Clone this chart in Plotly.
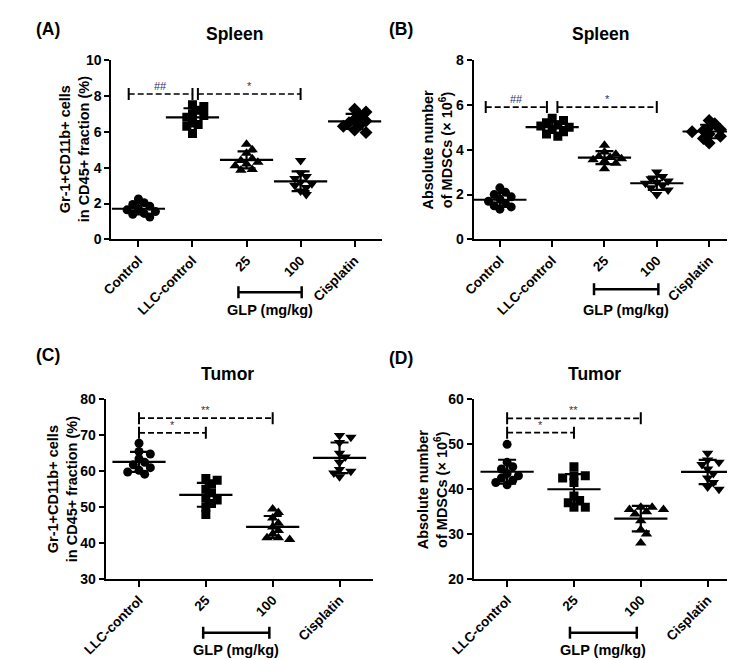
import numpy as np
import plotly.graph_objects as go

W, H = 735, 660
FONT = "Liberation Sans"

# ---------------- data ----------------
cats_spleen = ["Control", "LLC-control", "25", "100", "Cisplatin"]
cats_tumor = ["LLC-control", "25", "100", "Cisplatin"]
sym_spleen = ["circle", "square", "triangle-up", "triangle-down", "diamond"]
sym_tumor = ["circle", "square", "triangle-up", "triangle-down"]

# (A) Spleen, Gr-1+CD11b+ % of CD45+
a_control = [2.25, 2.05, 1.95, 1.85, 1.7, 1.65, 1.55, 1.45, 1.4, 1.25]
a_llc = [7.5, 7.4, 7.2, 7.0, 6.9, 6.8, 6.6, 6.4, 6.3, 5.9]
a_glp25 = [5.3, 5.0, 4.8, 4.5, 4.4, 4.3, 4.2, 4.1, 3.9, 3.85]
a_glp100 = [4.4, 3.7, 3.5, 3.4, 3.2, 3.1, 3.0, 2.9, 2.7, 2.5]
a_cis = [7.25, 7.1, 6.9, 6.7, 6.6, 6.5, 6.4, 6.3, 6.1, 5.95]

# (B) Spleen, absolute number of MDSCs (x10^6)
b_control = [2.3, 2.1, 2.0, 1.9, 1.8, 1.7, 1.6, 1.5, 1.45, 1.35]
b_llc = [5.4, 5.3, 5.2, 5.1, 5.05, 5.0, 4.9, 4.8, 4.7, 4.6]
b_glp25 = [4.2, 3.9, 3.8, 3.7, 3.65, 3.6, 3.55, 3.5, 3.4, 3.15]
b_glp100 = [3.0, 2.8, 2.7, 2.6, 2.55, 2.5, 2.4, 2.3, 2.2, 2.0]
b_cis = [5.3, 5.15, 5.0, 4.9, 4.85, 4.8, 4.7, 4.6, 4.5, 4.3]

# (C) Tumor, Gr-1+CD11b+ % of CD45+
c_llc = [67.8, 65.5, 64.8, 63.5, 62.5, 61.8, 61.0, 60.3, 59.8, 59.2]
c_glp25 = [58.0, 57.5, 56.5, 55.0, 54.0, 52.5, 52.0, 51.0, 50.0, 48.0]
c_glp100 = [49.5, 48.5, 47.0, 45.5, 44.5, 43.5, 42.5, 41.5, 41.0, 41.5]
c_cis = [70.0, 69.5, 68.0, 65.0, 64.0, 62.5, 60.5, 60.0, 59.5, 58.5]

# (D) Tumor, absolute number of MDSCs (x10^6)
d_llc = [50.0, 46.0, 45.0, 44.5, 43.5, 43.0, 42.5, 42.0, 41.5, 41.0]
d_glp25 = [45.0, 43.0, 43.0, 42.5, 41.5, 38.5, 37.5, 37.0, 36.0, 36.0]
d_glp100 = [36.0, 36.0, 35.5, 35.5, 35.0, 34.5, 33.0, 31.0, 30.0, 28.0]
d_cis = [48.0, 46.5, 46.0, 45.5, 44.5, 43.5, 42.5, 41.5, 40.5, 40.0]

# significance brackets: (from category index, to category index, y value, label)
br_a = [(-0.18, 1.0, 8.1, "##"), (1.1, 3.0, 8.1, "*")]
br_b = [(-0.27, 0.9, 5.9, "##"), (1.1, 3.0, 5.9, "*")]
br_c = [(0.0, 2.0, 74.8, "**"), (0.0, 1.0, 70.7, "*")]
br_d = [(0.0, 2.0, 55.8, "**"), (0.0, 1.0, 52.6, "*")]

ytitle_pct = ["Gr-1+CD11b+ cells", "in CD45+ fraction (%)"]
ytitle_abs = ["Absolute number", "of MDSCs (× 10<sup>6</sup>)"]

panels = [
    dict(letter="(A)", title="Spleen", cats=cats_spleen, syms=sym_spleen,
         groups=[a_control, a_llc, a_glp25, a_glp100, a_cis],
         box=(83, 362, 45, 229), yr=(0, 10), dtick=2, xr=(-0.5, 4.5),
         br=br_a, ytitle=ytitle_pct, ytx=45, glp=(1.85, 3.02), glpy=(283, 301),
         ttl=(210, 18), lt=(18, 13)),
    dict(letter="(B)", title="Spleen", cats=cats_spleen, syms=sym_spleen,
         groups=[b_control, b_llc, b_glp25, b_glp100, b_cis],
         box=(457, 727, 45, 229), yr=(0, 8), dtick=2, xr=(-0.5, 4.5),
         br=br_b, ytitle=ytitle_abs, ytx=420, glp=(1.8, 3.03), glpy=(280, 301),
         ttl=(588, 18), lt=(382, 13)),
    dict(letter="(C)", title="Tumor", cats=cats_tumor, syms=sym_tumor,
         groups=[c_llc, c_glp25, c_glp100, c_cis],
         box=(77, 353, 393, 577), yr=(30, 80), dtick=10, xr=(-0.5, 3.5),
         br=br_c, ytitle=ytitle_pct, ytx=32, glp=(0.96, 1.95), glpy=(632, 650),
         ttl=(203, 367), lt=(18, 347)),
    dict(letter="(D)", title="Tumor", cats=cats_tumor, syms=sym_tumor,
         groups=[d_llc, d_glp25, d_glp100, d_cis],
         box=(457, 733, 393, 577), yr=(20, 60), dtick=10, xr=(-0.5, 3.5),
         br=br_d, ytitle=ytitle_abs, ytx=414, glp=(0.94, 1.94), glpy=(632, 650),
         ttl=(582, 367), lt=(382, 350)),
]


def swarm(vals, ppu_y, ppu_x, size=9.0):
    """Deterministic beeswarm offsets (in category units)."""
    vals = np.asarray(vals, float)
    placed = []
    offs = np.zeros(len(vals))
    step = size * 0.65
    cands = [0.0]
    for j in range(1, 12):
        cands += [j * step, -j * step]
    for i in np.argsort(-vals):
        y = vals[i] * ppu_y
        chosen = cands[-1]
        for c in cands:
            if all((c - px) ** 2 + (y - py) ** 2 >= (size * 0.75) ** 2 for px, py in placed):
                chosen = c
                break
        placed.append((chosen, y))
        offs[i] = chosen / ppu_x
    return offs


fig = go.Figure()
shapes = []
annots = []


def bold(size, color="black"):
    return dict(family=FONT, size=size, color=color, weight="bold")


for k, p in enumerate(panels):
    n = k + 1
    xa = "x" if n == 1 else f"x{n}"
    ya = "y" if n == 1 else f"y{n}"
    x0p, x1p, y0p, y1p = p["box"]
    ppu_y = (y1p - y0p) / (p["yr"][1] - p["yr"][0])
    ppu_x = (x1p - x0p) / (p["xr"][1] - p["xr"][0])

    for i, (vals, sym) in enumerate(zip(p["groups"], p["syms"])):
        offs = swarm(vals, ppu_y, ppu_x)
        sz = 9 if sym in ("circle", "square") else 10
        fig.add_trace(go.Scatter(
            x=i + offs, y=vals, mode="markers", xaxis=xa, yaxis=ya,
            marker=dict(symbol=sym, size=sz, color="black", line=dict(width=0)),
            hoverinfo="y"))
        m = float(np.mean(vals))
        sd = float(np.std(vals, ddof=1))
        fig.add_trace(go.Scatter(
            x=[i], y=[m], mode="markers", xaxis=xa, yaxis=ya,
            marker=dict(symbol="line-ew", size=38, color="black",
                        line=dict(width=2.2, color="black")),
            error_y=dict(type="data", array=[sd], visible=True,
                         thickness=2.2, width=9, color="black"),
            hoverinfo="y"))

    dom_x = [x0p / W, x1p / W]
    dom_y = [1 - y1p / H, 1 - y0p / H]
    axkey = "xaxis" if n == 1 else f"xaxis{n}"
    aykey = "yaxis" if n == 1 else f"yaxis{n}"
    fig.layout[axkey] = dict(
        domain=dom_x, range=list(p["xr"]), anchor=ya,
        tickmode="array", tickvals=list(range(len(p["cats"]))), ticktext=p["cats"],
        tickangle=-45, ticks="outside", ticklen=6, tickwidth=2, tickcolor="black",
        showline=True, linewidth=2, linecolor="black", showgrid=False, zeroline=False,
        tickfont=bold(13.5), fixedrange=True)
    fig.layout[aykey] = dict(
        domain=dom_y, range=list(p["yr"]), anchor=xa, dtick=p["dtick"],
        ticks="outside", ticklen=5, tickwidth=2, tickcolor="black",
        showline=True, linewidth=2, linecolor="black", showgrid=False, zeroline=False,
        tickfont=bold(14), fixedrange=True)

    # significance brackets
    for (bx0, bx1, by, lab) in p["br"]:
        shapes.append(dict(type="line", xref=xa, yref=ya, x0=bx0, x1=bx1, y0=by, y1=by,
                           line=dict(color="black", width=1.7, dash="6px,3px")))
        for bx in (bx0, bx1):
            shapes.append(dict(type="line", xref=xa, yref=ya, xsizemode="scaled",
                               ysizemode="pixel", yanchor=by, x0=bx, x1=bx, y0=-6, y1=6,
                               line=dict(color="black", width=2)))
        annots.append(dict(x=(bx0 + bx1) / 2, y=by, xref=xa, yref=ya, text=lab,
                           showarrow=False, yanchor="bottom", yshift=0,
                           font=dict(family=FONT, size=11, color="#3a2f5c")))

    # GLP dose bracket below axis
    gx0, gx1 = p["glp"]
    gy, gly = p["glpy"]
    shapes.append(dict(type="line", xref=xa, yref="paper", x0=gx0, x1=gx1,
                       y0=1 - gy / H, y1=1 - gy / H, line=dict(color="black", width=2.5)))
    for gx in (gx0, gx1):
        shapes.append(dict(type="line", xref=xa, yref="paper", ysizemode="pixel",
                           yanchor=1 - gy / H, x0=gx, x1=gx, y0=-6, y1=6,
                           line=dict(color="black", width=2.5)))
    annots.append(dict(x=(gx0 + gx1) / 2, y=1 - gly / H, xref=xa, yref="paper",
                       text="GLP (mg/kg)", showarrow=False, yanchor="middle",
                       font=bold(14.5)))

    # panel title & letter
    annots.append(dict(x=p["ttl"][0] / W, y=1 - p["ttl"][1] / H, xref="paper", yref="paper",
                       text=p["title"], showarrow=False, xanchor="center", yanchor="middle",
                       font=bold(17.5)))
    annots.append(dict(x=p["lt"][0] / W, y=1 - p["lt"][1] / H, xref="paper", yref="paper",
                       text=p["letter"], showarrow=False, xanchor="center", yanchor="middle",
                       font=bold(17.5)))
    # y-axis title (two lines)
    annots.append(dict(x=p["ytx"] / W, y=1 - ((y0p + y1p) / 2) / H, xref="paper", yref="paper",
                       text="<br>".join(p["ytitle"]), showarrow=False, textangle=-90,
                       xanchor="center", yanchor="middle", font=bold(14.5)))

fig.update_layout(
    width=W, height=H, margin=dict(l=0, r=0, t=0, b=0),
    paper_bgcolor="white", plot_bgcolor="white", showlegend=False,
    font=dict(family=FONT, color="black"),
    shapes=shapes, annotations=annots)

fig.write_html("out.html")
